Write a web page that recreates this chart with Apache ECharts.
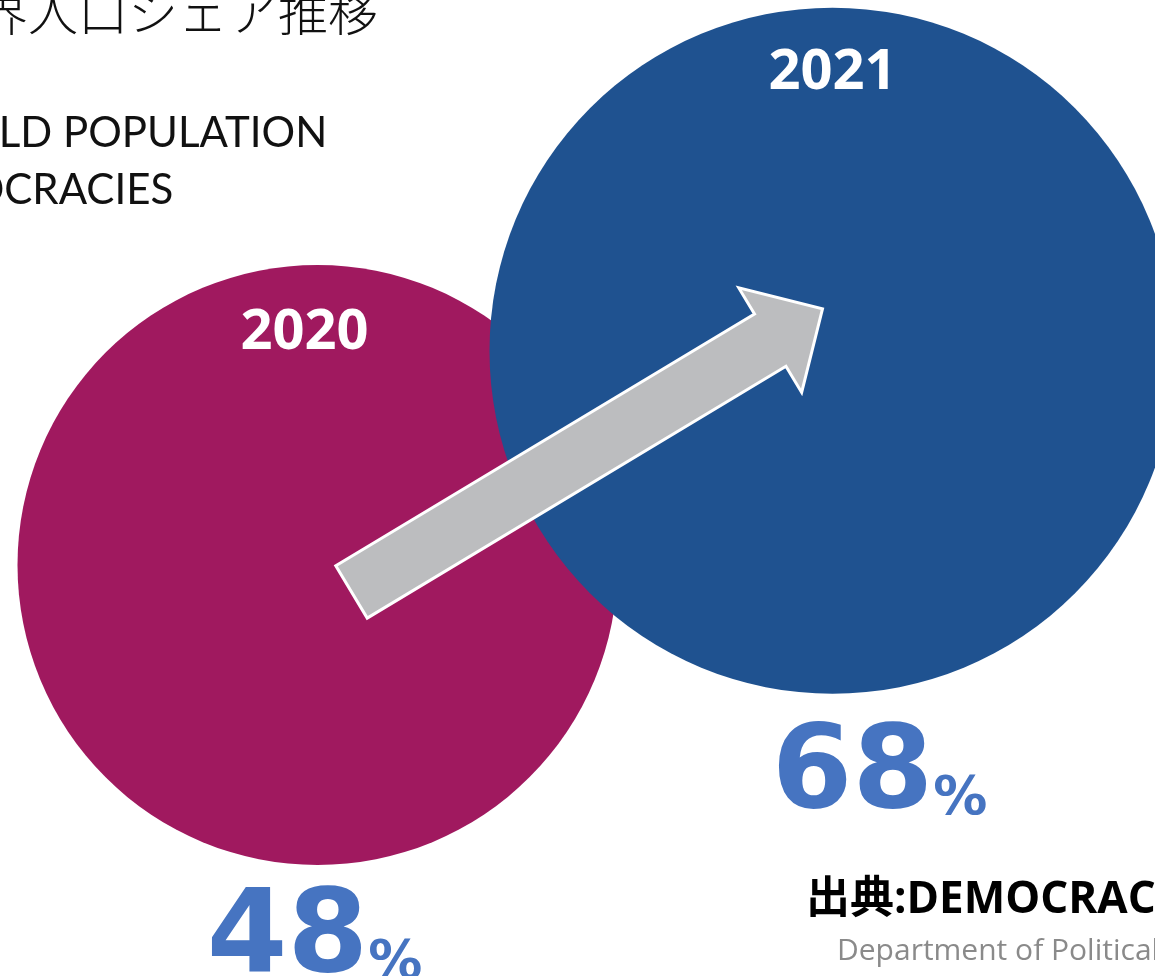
<!DOCTYPE html>
<html><head><meta charset="utf-8">
<script src="https://cdn.jsdelivr.net/npm/echarts@6/dist/echarts.min.js"></script>
<style>html,body{margin:0;padding:0;background:#fff}#c{width:1155px;height:976px}</style>
</head><body><div id="c"></div>
<script>
// ---- data ----
const years = ['2020', '2021'];
const shares = [48, 68];
const titleJa = '民主主義国の世界人口シェア推移';
const titleEn = ['SHARE OF WORLD POPULATION', 'LIVING IN AUTOCRACIES'];
const sourceMain = '出典:DEMOCRACY REPORT 2022';
const sourceSub = 'Department of Political Science, University of Gothenburg';

// ---- styles ----
const circleColors = ['#A0195F', '#1F5290'];
const circleSizes = [600, 686];
const yearOffsets = [[-13, -232], [0, -278]];
const pctOffsets = [[-3, 374], [47, 424]];

const chart = echarts.init(document.getElementById('c'));
const circleData = years.map((y, i) => ({
  value: [y, shares[i]],
  symbolSize: circleSizes[i],
  itemStyle: { color: circleColors[i], opacity: 1 },
  label: { show: true, formatter: y, offset: yearOffsets[i], position: 'inside',
    color: '#fff', fontSize: 56, fontWeight: 'bold', fontFamily: 'Open Sans, Noto Sans, sans-serif' }
}));
const pctData = years.map((y, i) => ({
  value: [y, shares[i]],
  itemStyle: { opacity: 1 },
  label: { show: true, position: 'inside', offset: pctOffsets[i],
    formatter: '{a|' + shares[i] + '}{b|%}' }
}));

chart.setOption({
  animation: false,
  grid: { left: 60, width: 1030, top: 8, bottom: 4 },
  xAxis: { type: 'category', data: years, show: false },
  yAxis: { type: 'value', min: 10, max: 100, show: false },
  series: [
    { type: 'scatter', data: circleData, symbol: 'circle', silent: true, z: 2, itemStyle: { opacity: 1 } },
    { type: 'scatter', data: pctData, symbolSize: 0, silent: true, z: 5, itemStyle: { opacity: 1 },
      label: { rich: {
        a: { fontSize: 116, fontWeight: 'bold', color: '#4674C1', fontFamily: 'DejaVu Sans', verticalAlign: 'bottom', lineHeight: 120 },
        b: { fontSize: 54, fontWeight: 'bold', color: '#4674C1', fontFamily: 'DejaVu Sans', verticalAlign: 'bottom', lineHeight: 120, padding: [0,0,8,0] }
      } } }
  ]
});

// arrow from 2020 circle toward 2021 circle
const p0 = chart.convertToPixel({ gridIndex: 0 }, [years[0], shares[0]]);
const p1 = chart.convertToPixel({ gridIndex: 0 }, [years[1], shares[1]]);
const tail = [p0[0] + 34, p0[1] + 27];
const tip = [p1[0] - 10, p1[1] - 42];
const dx = tip[0] - tail[0], dy = tip[1] - tail[1];
const L = Math.hypot(dx, dy);
const u = [dx / L, dy / L], n = [-u[1], u[0]];
const sw = 30.5, hw = 61, hl = 61;
const P = (a, b) => [tail[0] + u[0] * a + n[0] * b, tail[1] + u[1] * a + n[1] * b];
const pts = [P(0, -sw), P(L - hl, -sw), P(L - hl, -hw), P(L, 0), P(L - hl, hw), P(L - hl, sw), P(0, sw)];

chart.setOption({
  graphic: [
    { type: 'polygon', z: 10, shape: { points: pts }, style: { fill: '#BCBDBF', stroke: '#fff', lineWidth: 3 } },
    { type: 'text', z: 20, x: 378, y: 12, style: { text: titleJa, textAlign: 'right', textVerticalAlign: 'middle',
        font: '300 50px "Noto Sans CJK JP"', fill: '#111' } },
    { type: 'text', z: 20, x: -317, y: 133, style: { text: titleEn[0], textAlign: 'left', textVerticalAlign: 'middle',
        font: '42px Lato, "Noto Sans", sans-serif', fill: '#111' } },
    { type: 'text', z: 20, x: -313, y: 190, style: { text: titleEn[1], textAlign: 'left', textVerticalAlign: 'middle',
        font: '42px Lato, "Noto Sans", sans-serif', fill: '#111' } },
    { type: 'text', z: 20, x: 806, y: 900, style: { text: sourceMain, textAlign: 'left', textVerticalAlign: 'middle',
        font: 'bold 44px "Open Sans", "Noto Sans CJK JP"', fill: '#000' } },
    { type: 'text', z: 20, x: 837, y: 951, style: { text: sourceSub, textAlign: 'left', textVerticalAlign: 'middle',
        font: '30px "Open Sans", sans-serif', fill: '#8a8a8a' } }
  ]
});
</script></body></html>
